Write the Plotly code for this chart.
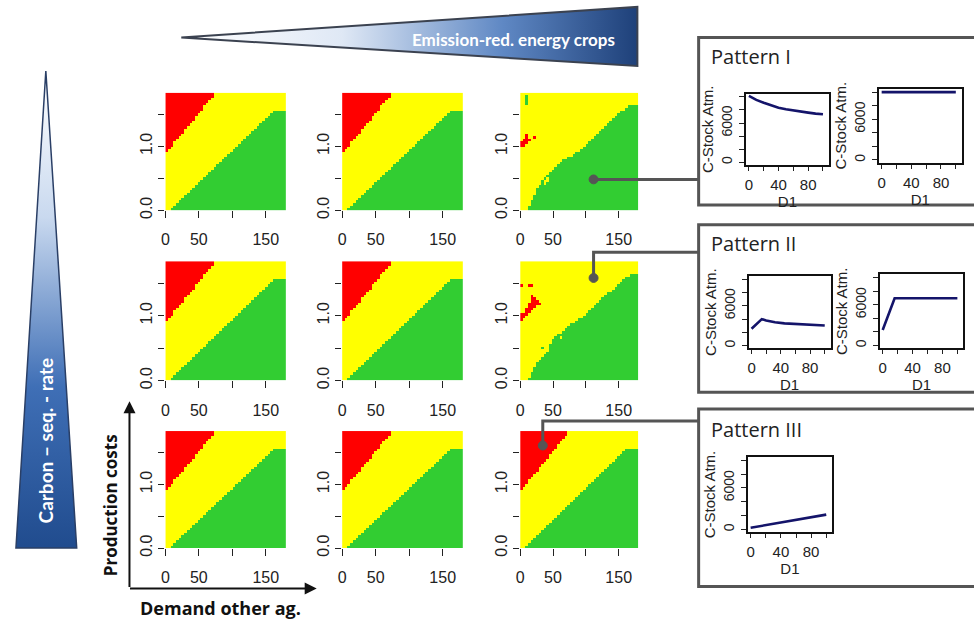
import plotly.graph_objects as go

W, H = 974, 630

# ---------------- data ----------------
# heatmap grid (Demand other ag. x Production costs)
X_CENTERS = [2 + 4 * k for k in range(45)]
Y_CENTERS = [round(0.02 + 0.04 * k, 2) for k in range(46)]

# per-row x where the red region ends (red if x < value)
BASE_RED_END = [0] * 22 + [1.6, 4.7, 7.9, 11, 14, 17, 20.5, 23.6, 26.8, 30, 33, 36,
                           39, 42.5, 45.7, 48.8, 52, 55, 58, 61, 64.6, 67.7, 71, 74]
NO_RED = [0] * 46
# per-row x where the green region starts (999 = no green)
BASE_GREEN_START = [9, 13, 17, 21, 25, 29, 33, 37, 41, 45, 49, 53, 57, 61, 65, 69, 73, 77,
                    81, 85, 89, 93, 97, 101, 105, 109, 113, 117, 121, 125, 129, 133, 137,
                    141, 145, 149, 153, 157, 161] + [999] * 7
P1_GREEN_START = [11, 13, 15, 18, 20, 21.5, 23, 24.5, 25.5, 28, 31, 34, 37, 41, 46, 50, 54,
                  58, 62, 66, 74, 79, 86, 92, 97, 101, 105, 109, 113, 116, 120, 125, 129,
                  133, 137, 141, 145, 149, 154, 160, 165] + [999] * 5
P2_GREEN_START = [13, 15, 17, 19, 21, 23, 26, 30, 34, 38, 42, 45, 46, 46, 47, 48, 53, 58, 63,
                  68, 73, 78, 84, 90, 96, 100, 104, 108, 112, 116, 120, 124, 129, 134, 139,
                  144, 149, 153, 157, 161, 168] + [999] * 5
# isolated cells: (x, y, category 0=red 1=yellow 2=green)
P1_SPECKS = [(2, 1.02, 0), (6, 1.02, 0), (2, 1.06, 0), (6, 1.06, 0), (10, 1.06, 0),
             (6, 1.10, 0), (10, 1.10, 0), (14, 1.10, 0), (10, 1.14, 0), (10, 1.18, 0),
             (22, 1.14, 0), (10, 1.66, 2), (10, 1.70, 2), (10, 1.74, 2), (10, 1.78, 2),
             (38, 0.46, 1), (42, 0.46, 1), (42, 0.50, 1), (38, 0.42, 1)]
P2_SPECKS = [(2, 0.94, 0), (2, 0.98, 0), (6, 0.98, 0), (2, 1.02, 0), (6, 1.02, 0),
             (10, 1.02, 0), (10, 1.06, 0), (14, 1.06, 0), (10, 1.10, 0), (14, 1.10, 0),
             (18, 1.10, 0), (14, 1.14, 0), (18, 1.14, 0), (22, 1.14, 0), (14, 1.18, 0),
             (18, 1.18, 0), (22, 1.18, 0), (26, 1.18, 0), (30, 1.18, 0), (18, 1.22, 0),
             (22, 1.22, 0), (26, 1.22, 0), (18, 1.26, 0), (22, 1.26, 0), (18, 1.30, 0),
             (2, 1.46, 0), (14, 1.46, 0), (18, 1.46, 0), (34, 0.50, 2), (62, 0.66, 1)]

PANELS = [["base", "base", "p1"],
          ["base", "base", "p2"],
          ["base", "base", "base"]]
PANEL_DATA = {"base": (BASE_RED_END, BASE_GREEN_START, []),
              "p1": (NO_RED, P1_GREEN_START, P1_SPECKS),
              "p2": (NO_RED, P2_GREEN_START, P2_SPECKS)}
CAT_COLORS = ["#ff0000", "#ffff00", "#32cd32"]
HM_XTICKS = [0, 50, 100, 150]
HM_XTEXT = ["0", "50", "", "150"]
HM_YTICKS = [0, 0.5, 1.0, 1.5]
HM_YTEXT = ["0.0", "", "1.0", ""]

# C-stock trajectories
PI_A_X = [0, 10, 20, 30, 40, 50, 60, 70, 80, 90, 100]
PI_A_Y = [10150, 9550, 9100, 8700, 8350, 8100, 7900, 7750, 7600, 7450, 7350]
PI_B_X = [0, 100]
PI_B_Y = [10000, 10000]
PII_A_X = [0, 5, 10, 14, 20, 32, 45, 58, 75, 90, 100]
PII_A_Y = [2550, 3100, 3650, 3990, 3800, 3510, 3350, 3270, 3125, 3060, 3030]
PII_B_X = [0, 16, 100]
PII_B_Y = [2300, 6970, 6970]
PIII_X = [0, 20, 40, 60, 80, 100]
PIII_Y = [250, 620, 1000, 1380, 1760, 2150]
MINI_XTICKS = [0, 20, 40, 60, 80, 100]
MINI_XTEXT = ["0", "", "40", "", "80", ""]
MINI_YTICKS = [0, 2000, 4000, 6000, 8000, 10000]
MINI_YTEXT = ["0", "", "", "6000", "", ""]


def px_x(p):
    return p / W


def px_y(p):
    return 1 - p / H


def build_z(red_end, green_start, specks):
    z = []
    for i, yc in enumerate(Y_CENTERS):
        row = []
        for xc in X_CENTERS:
            if xc < red_end[i]:
                row.append(0)
            elif xc >= green_start[i]:
                row.append(2)
            else:
                row.append(1)
        z.append(row)
    for sx, sy, c in specks:
        j = min(range(len(X_CENTERS)), key=lambda k: abs(X_CENTERS[k] - sx))
        i = min(range(len(Y_CENTERS)), key=lambda k: abs(Y_CENTERS[k] - sy))
        z[i][j] = c
    return z


fig = go.Figure()
layout = {}

RFONT = "Liberation Sans, Arial, sans-serif"
cols_px = [(162, 283), (339.5, 460.7), (518.3, 637)]
rows_px = [(94, 213.3), (265, 386), (437.3, 556)]
cscale = [[0, CAT_COLORS[0]], [0.3333, CAT_COLORS[0]], [0.3334, CAT_COLORS[1]],
          [0.6666, CAT_COLORS[1]], [0.6667, CAT_COLORS[2]], [1, CAT_COLORS[2]]]

n = 0
for r in range(3):
    for c in range(3):
        n += 1
        red_end, green_start, specks = PANEL_DATA[PANELS[r][c]]
        fig.add_trace(go.Heatmap(z=build_z(red_end, green_start, specks), x=X_CENTERS, y=Y_CENTERS,
                                 colorscale=cscale, zmin=0, zmax=2, showscale=False,
                                 hoverinfo="skip", xaxis=f"x{n}", yaxis=f"y{n}"))
        l, rr = cols_px[c]
        t, b = rows_px[r]
        layout[f"xaxis{n}"] = dict(domain=[px_x(l), px_x(rr)], range=[0, 180], anchor=f"y{n}",
                                   tickvals=HM_XTICKS, ticktext=HM_XTEXT, ticks="outside",
                                   ticklen=7, tickwidth=1.3, tickcolor="#222", showgrid=False,
                                   zeroline=False, showline=False, ticklabelstandoff=8,
                                   tickfont=dict(family=RFONT, size=16, color="#222"),
                                   fixedrange=True)
        layout[f"yaxis{n}"] = dict(domain=[px_y(b), px_y(t)], range=[0, 1.84], anchor=f"x{n}",
                                   tickvals=HM_YTICKS, ticktext=HM_YTEXT, ticks="outside",
                                   ticklen=6, tickwidth=1.3, tickcolor="#222", showgrid=False,
                                   zeroline=False, showline=False, tickangle=-90,
                                   ticklabelstandoff=0,
                                   tickfont=dict(family=RFONT, size=16, color="#222"),
                                   fixedrange=True)

minis = [
    (PI_A_X, PI_A_Y, (745, 828.3), (95, 167.3)),
    (PI_B_X, PI_B_Y, (878.3, 961.7), (90, 165)),
    (PII_A_X, PII_A_Y, (747.7, 830), (280, 353.3)),
    (PII_B_X, PII_B_Y, (879.3, 963.3), (278.3, 353.3)),
    (PIII_X, PIII_Y, (746.7, 831.7), (463.3, 540)),
]
for mx, my, (l, rr), (t, b) in minis:
    n += 1
    fig.add_trace(go.Scatter(x=mx, y=my, mode="lines", line=dict(color="#14146a", width=2.6),
                             hoverinfo="skip", showlegend=False, xaxis=f"x{n}", yaxis=f"y{n}"))
    layout[f"xaxis{n}"] = dict(domain=[px_x(l), px_x(rr)], range=[-4, 108], anchor=f"y{n}",
                               tickvals=MINI_XTICKS, ticktext=MINI_XTEXT, ticks="outside",
                               ticklen=4, tickcolor="#222", showgrid=False, zeroline=False,
                               showline=True, mirror=True, linecolor="#111", linewidth=2,
                               ticklabelstandoff=1,
                               tickfont=dict(family=RFONT, size=15, color="#222"),
                               title=dict(text="D1", standoff=1,
                                          font=dict(family=RFONT, size=15, color="#222")),
                               fixedrange=True)
    layout[f"yaxis{n}"] = dict(domain=[px_y(b), px_y(t)], range=[-400, 10500], anchor=f"x{n}",
                               tickvals=MINI_YTICKS, ticktext=MINI_YTEXT, ticks="outside",
                               ticklen=5, tickcolor="#222", showgrid=False, zeroline=False,
                               showline=True, mirror=True, linecolor="#111", linewidth=2,
                               tickangle=-90, ticklabelstandoff=1,
                               tickfont=dict(family=RFONT, size=14, color="#222"),
                               title=dict(text="C-Stock Atm.", standoff=2,
                                          font=dict(family=RFONT, size=15, color="#222")),
                               fixedrange=True)

# overlay axis in pixel units for the decorations
n += 1
OV = n
layout[f"xaxis{OV}"] = dict(domain=[0, 1], range=[0, W], visible=False, anchor=f"y{OV}",
                            fixedrange=True)
layout[f"yaxis{OV}"] = dict(domain=[0, 1], range=[H, 0], visible=False, anchor=f"x{OV}",
                            fixedrange=True)
XR, YR = f"x{OV}", f"y{OV}"

# gradient triangles
fig.add_trace(go.Scatter(x=[178, 636, 636, 178], y=[38, 7, 67, 38], mode="lines", fill="toself",
                         fillgradient=dict(type="horizontal", start=178, stop=636,
                                           colorscale=[[0, "#ffffff"], [0.35, "#dfe8f5"],
                                                       [0.7, "#5f88c4"], [1, "#1d3f78"]]),
                         line=dict(color="#3b4250", width=2), hoverinfo="skip",
                         showlegend=False, xaxis=XR, yaxis=YR))
fig.add_trace(go.Scatter(x=[42, 73, 12, 42], y=[72, 556, 556, 72], mode="lines", fill="toself",
                         fillgradient=dict(type="vertical", start=72, stop=556,
                                           colorscale=[[0, "#ffffff"], [0.3, "#c9d9ef"],
                                                       [0.65, "#3f6fb6"], [1, "#1f4a8c"]]),
                         line=dict(color="#2a3f66", width=1.5), hoverinfo="skip",
                         showlegend=False, xaxis=XR, yaxis=YR))

GRAY = "#555555"
shapes = []
for y0, y1 in [(38, 208), (228, 398), (415, 595)]:
    shapes.append(dict(type="rect", xref=XR, yref=YR, x0=697.5, x1=990, y0=y0, y1=y1,
                       line=dict(color=GRAY, width=3), fillcolor="rgba(0,0,0,0)"))
shapes.append(dict(type="path", xref=XR, yref=YR, path="M 592 182 L 697 182",
                   line=dict(color=GRAY, width=3)))
shapes.append(dict(type="path", xref=XR, yref=YR, path="M 592 282 L 592 256 L 697 256",
                   line=dict(color=GRAY, width=3)))
shapes.append(dict(type="path", xref=XR, yref=YR, path="M 541 452 L 541 427 L 697 427",
                   line=dict(color=GRAY, width=3)))
for cx, cy in [(592, 182), (592, 282), (541, 452)]:
    shapes.append(dict(type="circle", xref=XR, yref=YR, x0=cx - 4.5, x1=cx + 4.5,
                       y0=cy - 4.5, y1=cy + 4.5, fillcolor=GRAY, line=dict(color=GRAY, width=1)))

annotations = []
# axis arrows
annotations.append(dict(x=126, y=407, ax=126, ay=597, xref=XR, yref=YR, axref=XR, ayref=YR,
                        text="", showarrow=True, arrowhead=2, arrowsize=1.2, arrowwidth=2,
                        arrowcolor="#111"))
annotations.append(dict(x=314, y=597, ax=125, ay=597, xref=XR, yref=YR, axref=XR, ayref=YR,
                        text="", showarrow=True, arrowhead=2, arrowsize=1.2, arrowwidth=2,
                        arrowcolor="#111"))
annotations.append(dict(x=107, y=513, xref=XR, yref=YR, text="<b>Production costs</b>",
                        textangle=-90, showarrow=False,
                        font=dict(family="Open Sans", size=17, color="#111")))
annotations.append(dict(x=217, y=617, xref=XR, yref=YR, text="<b>Demand other ag.</b>",
                        showarrow=False, font=dict(family="Open Sans", size=18, color="#111")))
annotations.append(dict(x=42, y=447, xref=XR, yref=YR, text="<b>Carbon – seq. - rate</b>",
                        textangle=-90, showarrow=False,
                        font=dict(family="Lato", size=19, color="#ffffff")))
annotations.append(dict(x=512, y=40, xref=XR, yref=YR, text="<b>Emission-red. energy crops</b>",
                        showarrow=False, font=dict(family="Lato", size=17, color="#ffffff")))
for txt, yy in [("Pattern I", 57), ("Pattern II", 247), ("Pattern III", 436)]:
    annotations.append(dict(x=708, y=yy, xref=XR, yref=YR, text=txt, xanchor="left",
                            showarrow=False, font=dict(family="Open Sans", size=20, color="#222")))

fig.update_layout(width=W, height=H, autosize=False, margin=dict(l=0, r=0, t=0, b=0),
                  paper_bgcolor="white", plot_bgcolor="rgba(0,0,0,0)", showlegend=False,
                  shapes=shapes, annotations=annotations, **layout)

fig.write_html("out.html")
